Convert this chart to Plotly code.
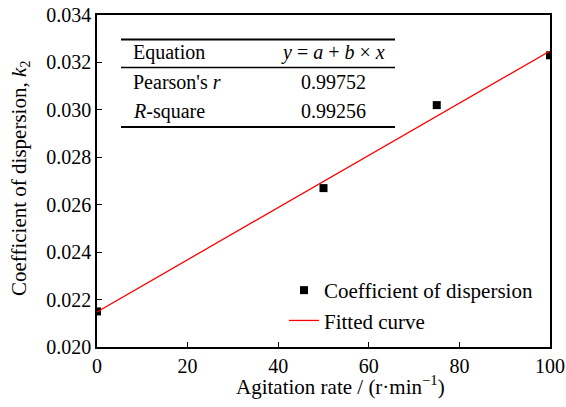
import plotly.graph_objects as go

# Data
agitation_rate = [0, 50, 75, 100]
dispersion_k2 = [0.0215, 0.0267, 0.0302, 0.0323]

fit_x = [0, 100]
fit_y = [0.02148, 0.03248]

x_ticks = [0, 20, 40, 60, 80, 100]
y_ticks = [0.020, 0.022, 0.024, 0.026, 0.028, 0.030, 0.032, 0.034]

x_title = "Agitation rate / (r·min<sup>−1</sup>)"
y_title = "Coefficient of dispersion, <i>k</i><sub>2</sub>"

table_rows = [
    ("Equation", "<i>y</i> = <i>a</i> + <i>b</i> × <i>x</i>"),
    ("Pearson's <i>r</i>", "0.99752"),
    ("<i>R</i>-square", "0.99256"),
]

FONT = "Liberation Serif"

fig = go.Figure()
fig.add_trace(go.Scatter(
    x=agitation_rate, y=dispersion_k2, mode="markers",
    name="Coefficient of dispersion",
    marker=dict(symbol="square", size=8, color="black"),
))
fig.add_trace(go.Scatter(
    x=fit_x, y=fit_y, mode="lines", name="Fitted curve",
    line=dict(color="red", width=1.3),
))

W, H = 566, 407
L, R, T, B = 97, 16, 15, 60
pw, ph = W - L - R, H - T - B

def px(xp):
    return (xp - L) / pw

def py(yp):
    return (H - B - yp) / ph

# Table rules
for y_pix, w in [(39.5, 2), (67.5, 1.3), (127, 2)]:
    fig.add_shape(type="line", xref="paper", yref="paper",
                  x0=px(121), x1=px(395), y0=py(y_pix), y1=py(y_pix),
                  line=dict(color="black", width=w))

row_y = [53, 82, 111]
for (lbl, val), yp in zip(table_rows, row_y):
    fig.add_annotation(x=px(131), y=py(yp), xref="paper", yref="paper",
                       text=lbl, showarrow=False, xanchor="left", yanchor="middle",
                       font=dict(family=FONT, size=20, color="black"))
    fig.add_annotation(x=px(333), y=py(yp), xref="paper", yref="paper",
                       text=val, showarrow=False, xanchor="center", yanchor="middle",
                       font=dict(family=FONT, size=20, color="black"))

# Axis titles
fig.add_annotation(x=px(340), y=py(385), xref="paper", yref="paper",
                   text=x_title, showarrow=False, xanchor="center", yanchor="middle",
                   font=dict(family=FONT, size=21, color="black"))
fig.add_annotation(x=px(20), y=py(178), xref="paper", yref="paper",
                   text=y_title, showarrow=False, textangle=-90,
                   xanchor="center", yanchor="middle",
                   font=dict(family=FONT, size=21, color="black"))

fig.update_layout(
    width=W, height=H,
    margin=dict(l=L, r=R, t=T, b=B, autoexpand=False),
    paper_bgcolor="white", plot_bgcolor="white",
    font=dict(family=FONT, size=20, color="black"),
    showlegend=True,
    legend=dict(x=px(284), y=py(270), xanchor="left", yanchor="top",
                bgcolor="rgba(0,0,0,0)", font=dict(family=FONT, size=21),
                tracegroupgap=0, itemwidth=30),
    xaxis=dict(range=[0, 100], tickvals=x_ticks, ticks="inside", ticklen=5,
               tickwidth=1.3, tickcolor="black", automargin=False,
               tickfont=dict(family=FONT, size=20),
               showline=True, linecolor="black", linewidth=1.5, mirror=True,
               showgrid=False, zeroline=False),
    yaxis=dict(range=[0.020, 0.034], tickvals=y_ticks, tickformat=".3f",
               ticks="inside", ticklen=5, tickwidth=1.3, tickcolor="black",
               automargin=False, tickfont=dict(family=FONT, size=20),
               showline=True, linecolor="black", linewidth=1.5, mirror=True,
               showgrid=False, zeroline=False),
)

fig.write_html("out.html", config={"displayModeBar": False},
               post_script="document.body.style.margin='0';")
